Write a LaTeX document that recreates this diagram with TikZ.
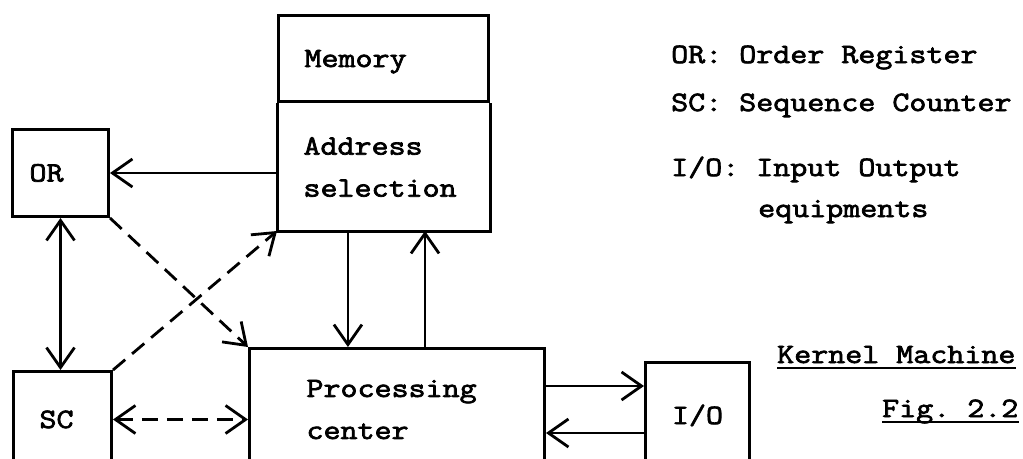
\documentclass[tikz,border=0pt]{standalone}
\usepackage{fontspec}
\setmainfont{Latin Modern Mono}[FakeStretch=1.18, FakeBold=2.6]
\usetikzlibrary{arrows.meta,calc}

\begin{document}
\begin{tikzpicture}[x=1pt,y=-1pt,
  every node/.style={font=\frenchspacing\fontsize{28}{42}\selectfont},
  box/.style={draw, rectangle, line width=3pt, inner sep=0pt, anchor=north west},
  oneline/.style={text height=17pt, text depth=0pt},
  arr/.style={line width=2.8pt, -{Straight Barb[length=20pt,width=28pt]}},
  dbl/.style={line width=2.8pt, {Straight Barb[length=20pt,width=28pt]}-{Straight Barb[length=20pt,width=28pt]}},
  dsh/.style={dash pattern=on 16pt off 9pt},
  lbl/.style={inner sep=0pt, anchor=base west}]
  \useasboundingbox (0,0) rectangle (1023,458);
  \clip (0,0) rectangle (1023,458);

  % memory unit: two stacked compartments sharing one divider
  \node[box, oneline, align=left, text width=158pt, inner xsep=26pt, minimum height=86pt] (mem) at (277,14) {Memory};
  \node[box, draw=none, align=left, text width=160pt, inner xsep=25pt, minimum height=125pt] (addr) at (mem.south west) {Address\\selection};
  \draw[line width=3pt] (addr.north west) -- (addr.south west) -- (addr.south east) -- (addr.north east);

  % registers, processing center and peripherals
  \node[box, oneline, align=left, text width=62pt, inner xsep=17pt, minimum height=87pt] (oreg) at (11,128) {OR};
  \node[box, oneline, align=left, text width=46pt, inner xsep=26pt, minimum height=96pt] (sc) at (12,370) {SC};
  \node[box, align=left, text width=181pt, inner xsep=57pt, minimum height=122pt] (proc) at (248,347) {Processing\\center};
  \node[box, oneline, minimum width=104pt, minimum height=106pt] (io) at (644,361) {I/O};

  % legend
  \node[lbl] (lgor) at (671,63) {OR: Order Register};
  \node[lbl] (lgsc) at (671,111) {SC: Sequence Counter};
  \node[lbl] (lgio) at (671,176) {I/O: Input Output};
  \node[lbl] (lgeq) at (758,217) {equipments};

  % caption
  \node[lbl] (kern) at (777,363) {Kernel Machine};
  \node[lbl] (fig) at (882,417) {Fig. 2.2};
  \draw[line width=2.4pt] ([yshift=-5pt]kern.base west) -- ([yshift=-5pt]kern.base east);
  \draw[line width=2.4pt] ([yshift=-5pt]fig.base west) -- ([yshift=-5pt]fig.base east);

  % solid connections
  \draw[arr] (addr.west |- oreg.east) -- (oreg.east);
  \draw[dbl] (oreg.south) -- (oreg.south |- sc.north);
  \path ($(addr.south west)!0.333!(addr.south east)$) coordinate (dn)
        ($(addr.south west)!0.695!(addr.south east)$) coordinate (up);
  \draw[arr] (dn) -- (dn |- proc.north);
  \draw[arr] (up |- proc.north) -- (up);
  \coordinate (ioin) at ([yshift=-25pt]io.north west);
  \coordinate (ioout) at ([yshift=-72pt]io.north west);
  \draw[arr] (ioin -| proc.east) -- (ioin);
  \draw[arr] (ioout) -- (ioout -| proc.east);

  % dashed control paths
  \draw[arr, dsh] (oreg.south east) -- (proc.north west);
  \draw[arr, dsh] (sc.north east) -- (addr.south west);
  \draw[dbl, dsh] (sc.east) -- (sc.east -| proc.west);
\end{tikzpicture}
\end{document}
